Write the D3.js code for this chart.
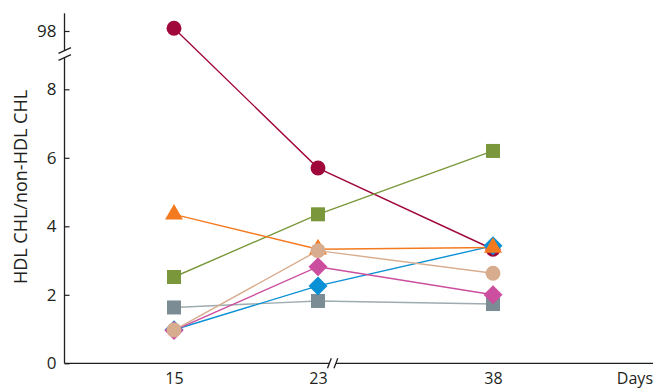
<!DOCTYPE html>
<html>
<head>
<meta charset="utf-8">
<script src="https://cdn.jsdelivr.net/npm/d3@7"></script>
<style>
  html, body { margin: 0; padding: 0; background: #fff; }
  svg { display: block; font-family: "Open Sans", "Noto Sans", sans-serif; }
</style>
</head>
<body>
<svg id="chart" width="657" height="388"></svg>
<script>
// ---- data ----
const days = [15, 23, 38];
const dayLabels = ["15", "23", "38"];
const yTicksLow = [0, 2, 4, 6, 8];
const yTicksHigh = [98];
const seriesNames = ["red", "green", "gray", "blue", "pink", "orange", "beige"];
const redValues    = [98.08, 5.70, 3.33];
const greenValues  = [2.52, 4.35, 6.20];
const grayValues   = [1.63, 1.82, 1.73];
const blueValues   = [0.98, 2.26, 3.43];
const pinkValues   = [0.96, 2.82, 2.00];
const orangeValues = [4.35, 3.33, 3.38];
const beigeValues  = [0.97, 3.29, 2.63];

// ---- styles ----
const styles = {
  red:    { values: redValues,    color: "#a0073a", line: "#a0073a", shape: "circle" },
  green:  { values: greenValues,  color: "#7a983b", line: "#7a983b", shape: "square" },
  gray:   { values: grayValues,   color: "#7b8c95", line: "#9eabb1", shape: "square" },
  blue:   { values: blueValues,   color: "#0a90d4", line: "#0a90d4", shape: "diamond" },
  pink:   { values: pinkValues,   color: "#cc4e9e", line: "#cc4e9e", shape: "diamond" },
  orange: { values: orangeValues, color: "#f47a20", line: "#f47a20", shape: "triangle" },
  beige:  { values: beigeValues,  color: "#d8ad8f", line: "#d8ad8f", shape: "circle" }
};

const svg = d3.select("#chart");
const axisColor = "#231f20";
const textColor = "#231f20";

const axisX = 64.5, axisY = 363.3, axisRight = 653;
const x = d3.scaleLinear().domain(days).range([174, 318, 493]);
const yLow = d3.scaleLinear().domain([0, 8]).range([axisY, 89.3]);
const pxPerUnit = (axisY - 89.3) / 8;
const yHigh = d3.scaleLinear().domain([97, 98]).range([31 + pxPerUnit, 31]);
const yOf = v => v > 50 ? yHigh(v) : yLow(v);

// ---- axes ----
const breakTop = 50.5, breakBot = 57.5;
svg.append("line").attr("x1", axisX).attr("x2", axisX).attr("y1", 13.3).attr("y2", breakTop)
  .attr("stroke", axisColor).attr("stroke-width", 1.3);
svg.append("line").attr("x1", axisX).attr("x2", axisX).attr("y1", breakBot).attr("y2", axisY)
  .attr("stroke", axisColor).attr("stroke-width", 1.3);
[breakTop, breakBot].forEach(yb => {
  svg.append("line").attr("x1", axisX - 6).attr("y1", yb + 2.8).attr("x2", axisX + 6.5).attr("y2", yb - 2.8)
    .attr("stroke", axisColor).attr("stroke-width", 1.3);
});

const yAxisLow = d3.axisLeft(yLow).tickValues(yTicksLow).tickSizeInner(-5).tickSizeOuter(0).tickPadding(8).tickFormat(d3.format("d"));
const yAxisHigh = d3.axisLeft(yHigh).tickValues(yTicksHigh).tickSizeInner(-5).tickSizeOuter(0).tickPadding(8).tickFormat(d3.format("d"));
[yAxisLow, yAxisHigh].forEach(ax => {
  const g = svg.append("g").attr("transform", `translate(${axisX},0)`).call(ax);
  g.select(".domain").remove();
  g.selectAll(".tick line").attr("stroke", axisColor).attr("stroke-width", 1.2);
  g.selectAll(".tick text").attr("fill", textColor).style("font-size", "17px")
    .style("font-family", "'Open Sans', sans-serif");
});

const xb1 = 329.5, xb2 = 336;
svg.append("line").attr("x1", axisX).attr("x2", xb1).attr("y1", axisY).attr("y2", axisY)
  .attr("stroke", axisColor).attr("stroke-width", 1.3);
svg.append("line").attr("x1", xb2).attr("x2", axisRight).attr("y1", axisY).attr("y2", axisY)
  .attr("stroke", axisColor).attr("stroke-width", 1.3);
[xb1, xb2].forEach(xx => {
  svg.append("line").attr("x1", xx - 2).attr("y1", axisY + 5).attr("x2", xx + 1.8).attr("y2", axisY - 5)
    .attr("stroke", axisColor).attr("stroke-width", 1.3);
});

const xAxis = d3.axisBottom(x).tickValues(days).tickSize(0).tickPadding(9)
  .tickFormat((d, i) => dayLabels[i]);
const gx = svg.append("g").attr("transform", `translate(0,${axisY})`).call(xAxis);
gx.select(".domain").remove();
gx.selectAll(".tick text").attr("fill", textColor).style("font-size", "16px")
  .style("font-family", "'Open Sans', sans-serif");

svg.append("text").attr("x", axisRight).attr("y", 383.5).attr("text-anchor", "end")
  .attr("fill", textColor).style("font-size", "16px").text("Days");

svg.append("text")
  .attr("transform", `translate(26.5,187) rotate(-90)`)
  .attr("text-anchor", "middle").attr("fill", textColor)
  .style("font-size", "18px").text("HDL CHL/non-HDL CHL");

// ---- lines ----
const line = d3.line().x((d, i) => x(days[i])).y(d => yOf(d));
seriesNames.forEach(name => {
  const s = styles[name];
  svg.append("path").datum(s.values).attr("d", line)
    .attr("fill", "none").attr("stroke", s.line).attr("stroke-width", 1.4);
});

// ---- markers ----
const symbolType = { circle: d3.symbolCircle, square: d3.symbolSquare, diamond: d3.symbolSquare, triangle: d3.symbolTriangle };
const symbolSize = { circle: 175, square: 196, diamond: 180, triangle: 140 };
const symbolRot = { circle: 0, square: 0, diamond: 45, triangle: 0 };
seriesNames.forEach(name => {
  const s = styles[name];
  svg.append("g").selectAll("path").data(s.values).join("path")
    .attr("transform", (d, i) => `translate(${x(days[i])},${yOf(d)}) rotate(${symbolRot[s.shape]})`)
    .attr("d", d3.symbol().type(symbolType[s.shape]).size(symbolSize[s.shape]))
    .attr("fill", s.color);
});
</script>
</body>
</html>
